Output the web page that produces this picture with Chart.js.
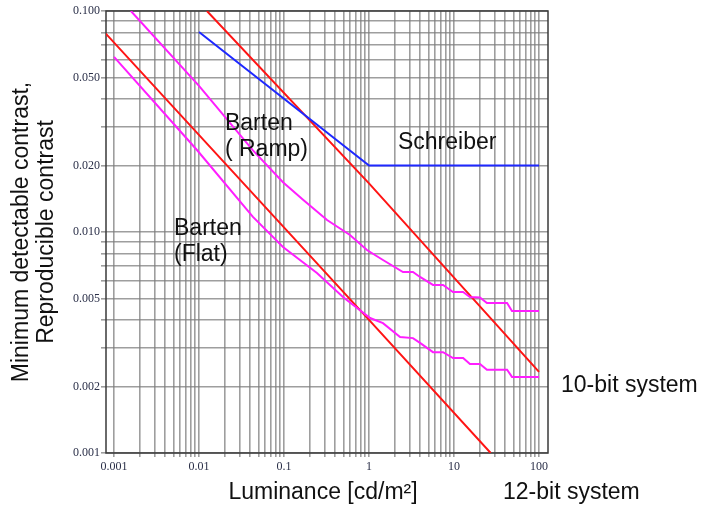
<!DOCTYPE html>
<html>
  <head>
    <meta charset="utf-8" />
    <title>Minimum detectable contrast</title>
    <style>
      html, body { margin: 0; padding: 0; background: #fff; }
    </style>
  </head>
  <body>
    <canvas id="myChart" width="703" height="506"></canvas>

    <script src="https://cdn.jsdelivr.net/npm/chart.js@4.4.0/dist/chart.umd.min.js"></script>
    <script>
      // Barten, flat field (luminance cd/m2 -> contrast)
      const flatLum = [0.001, 0.00946, 0.0431, 0.0973, 0.244, 0.494, 1.03, 1.46, 2.32, 3.29, 3.98, 5.66, 7.43, 9.73, 12.8, 15.4, 20.2, 24.4, 42.1, 48.1, 100];
      const flatContrast = [0.062, 0.0235, 0.0117, 0.00855, 0.00652, 0.00508, 0.00408, 0.00387, 0.00335, 0.00331, 0.00315, 0.00286, 0.00286, 0.00269, 0.00269, 0.00253, 0.00253, 0.00238, 0.00238, 0.00221, 0.00221];

      // Barten, ramp
      const rampLum = [0.00158, 0.01, 0.0431, 0.0973, 0.1675, 0.321, 0.597, 0.946, 1.46, 2.51, 3.29, 3.98, 5.66, 7.43, 9.73, 12.8, 15.4, 20.2, 24.4, 42.1, 48.1, 100];
      const rampContrast = [0.1, 0.0458, 0.0234, 0.0168, 0.014, 0.01133, 0.00969, 0.00829, 0.00747, 0.00659, 0.00659, 0.00626, 0.00576, 0.00576, 0.00535, 0.00535, 0.00508, 0.00505, 0.00477, 0.00477, 0.00439, 0.00439];

      // Schreiber
      const schreiberLum = [0.01, 1, 100];
      const schreiberContrast = [0.0804, 0.02, 0.02];

      // reproducible contrast, 10-bit and 12-bit systems
      const tenBitLum = [0.0124, 1, 100];
      const tenBitContrast = [0.1, 0.0166, 0.00233];
      const twelveBitLum = [0.0008, 1, 27];
      const twelveBitContrast = [0.079, 0.004, 0.001];

      // labelled ticks
      const xTickLabels = [0.001, 0.01, 0.1, 1, 10, 100];
      const yTickLabels = [0.001, 0.002, 0.005, 0.01, 0.02, 0.05, 0.1];

      // grid lines at 1..9 of each decade
      const xDecades = [0.001, 0.01, 0.1, 1, 10];
      const yDecades = [0.001, 0.01];
      const mantissas = [1, 2, 3, 4, 5, 6, 7, 8, 9];
      const xGrid = xDecades.flatMap(d => mantissas.map(m => m * d)).concat([100]);
      const yGrid = yDecades.flatMap(d => mantissas.map(m => m * d)).concat([0.1]);

      const pairs = (xs, ys) => xs.map((x, i) => ({ x: x, y: ys[i] }));
      const isLabel = (v, list) => list.some(l => Math.abs(v / l - 1) < 1e-6);

      const RED = "rgb(255, 20, 20)";
      const MAGENTA = "rgb(255, 30, 255)";
      const BLUE = "rgb(30, 40, 255)";
      const GRID = "rgba(125, 125, 125, 0.75)";
      const SANS = '"Liberation Sans", Arial, sans-serif';
      const SERIF = '"Liberation Serif", "Times New Roman", serif';

      // frame on all four sides plus the text labels
      const annotate = {
        id: "annotate",
        beforeDatasetsDraw(chart) {
          const { ctx, chartArea: a } = chart;
          ctx.save();
          ctx.strokeStyle = "#3a3a3a";
          ctx.lineWidth = 1.5;
          ctx.strokeRect(a.left, a.top, a.right - a.left, a.bottom - a.top);
          ctx.restore();
        },
        afterDraw(chart) {
          const { ctx, chartArea: a, scales } = chart;
          const xs = scales.x, ys = scales.y;
          ctx.save();
          ctx.fillStyle = "#111";
          ctx.font = "23px " + SANS;
          ctx.textBaseline = "middle";
          ctx.textAlign = "left";

          const curveText = [
            { lines: ["Barten", "( Ramp)"], x: 0.0202, y: 0.0308 },
            { lines: ["Barten", "(Flat)"], x: 0.00508, y: 0.0104 },
            { lines: ["Schreiber"], x: 2.19, y: 0.0253 },
          ];
          curveText.forEach(t => {
            const px = xs.getPixelForValue(t.x);
            const py = ys.getPixelForValue(t.y);
            t.lines.forEach((s, i) => ctx.fillText(s, px, py + i * 26));
          });

          ctx.fillText("10-bit system", a.right + 13, ys.getPixelForValue(0.002) - 1);
          ctx.fillText("12-bit system", 503, 493);

          ctx.textAlign = "center";
          ctx.fillText("Luminance [cd/m\u00b2]", 323, 493);

          // y axis title, two rotated lines
          const cy = (a.top + a.bottom) / 2;
          ctx.translate(22, cy);
          ctx.rotate(-Math.PI / 2);
          ctx.fillText("Minimum detectable contrast,", 0, 0);
          ctx.fillText("Reproducible contrast", 0, 25);
          ctx.restore();
        },
      };

      const ctx = document.getElementById("myChart").getContext("2d");
      const myChart = new Chart(ctx, {
        type: "scatter",
        data: {
          datasets: [
            { label: "Schreiber", data: pairs(schreiberLum, schreiberContrast), borderColor: BLUE },
            { label: "Barten (Ramp)", data: pairs(rampLum, rampContrast), borderColor: MAGENTA },
            { label: "Barten (Flat)", data: pairs(flatLum, flatContrast), borderColor: MAGENTA },
            { label: "10-bit system", data: pairs(tenBitLum, tenBitContrast), borderColor: RED },
            { label: "12-bit system", data: pairs(twelveBitLum, twelveBitContrast), borderColor: RED },
          ],
        },
        options: {
          responsive: false,
          animation: false,
          layout: { padding: { top: 11, right: 155, left: 0, bottom: 0 } },
          datasets: {
            scatter: { showLine: true, borderWidth: 2, pointRadius: 0, tension: 0 },
          },
          plugins: {
            legend: { display: false },
            tooltip: { enabled: false },
          },
          scales: {
            x: {
              type: "logarithmic",
              min: 0.000805,
              max: 127.6,
              afterBuildTicks: s => { s.ticks = xGrid.map(v => ({ value: v })); },
              afterFit: s => { s.height = 53; },
              ticks: {
                autoSkip: false,
                maxRotation: 0,
                padding: 3,
                color: "#2a2f48",
                font: { family: SERIF, size: 12 },
                callback: v => (isLabel(v, xTickLabels) ? String(xTickLabels.find(l => isLabel(v, [l]))) : ""),
              },
              grid: { color: GRID, lineWidth: 1.6, tickLength: 4 },
              border: { display: false },
            },
            y: {
              type: "logarithmic",
              min: 0.001,
              max: 0.1,
              afterBuildTicks: s => { s.ticks = yGrid.map(v => ({ value: v })); },
              afterFit: s => { s.width = 106; },
              ticks: {
                autoSkip: false,
                padding: 1,
                color: "#2a2f48",
                font: { family: SERIF, size: 12 },
                callback: v => (isLabel(v, yTickLabels) ? v.toFixed(3) : ""),
              },
              grid: { color: GRID, lineWidth: 1.6, tickLength: 5 },
              border: { display: false },
            },
          },
        },
        plugins: [annotate],
      });
    </script>
  </body>
</html>
